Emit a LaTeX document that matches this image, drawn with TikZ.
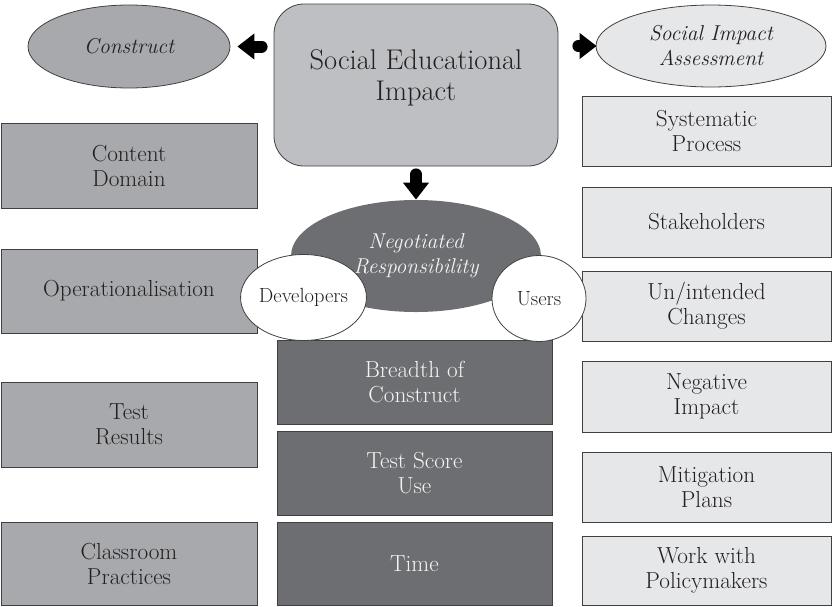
\documentclass[tikz,border=0pt]{standalone}
\usetikzlibrary{shapes.geometric,arrows.meta,calc}
\definecolor{midgray}{HTML}{A7A9AC}
\definecolor{maingray}{HTML}{BEBFC2}
\definecolor{darkgray}{HTML}{6D6E71}
\definecolor{lightgray}{HTML}{E6E7E8}
\definecolor{inkc}{HTML}{231F20}
\definecolor{edgec}{HTML}{404041}
\definecolor{whitetext}{HTML}{F4F4F4}
\begin{document}
\begin{tikzpicture}[x=1pt,y=-1pt,
  base/.style={draw=edgec,line width=0.8pt,inner sep=0pt,align=center,text=inkc},
  boxtext/.style={font=\fontsize{23.2}{25}\selectfont},
  leftbox/.style={base,boxtext,rectangle,fill=midgray,minimum width=256pt},
  centerbox/.style={base,boxtext,rectangle,fill=darkgray,text=whitetext,minimum width=275pt},
  rightbox/.style={base,boxtext,rectangle,fill=lightgray,minimum width=249pt},
  ell/.style={base,ellipse,font=\fontsize{21.5}{25}\selectfont\itshape},
  circ/.style={base,ellipse,fill=white,font=\fontsize{20.5}{22}\selectfont},
  bigarrow/.style={line width=12pt,line cap=round,draw=black,
     -{Triangle[width=25pt,length=17pt]}}
]
\useasboundingbox (0,0) rectangle (833,606);
% top row
\node[ell,fill=midgray,minimum width=202pt,minimum height=83pt] (construct) at (129,46.5) {Construct};
\node[ell,fill=lightgray,minimum width=230pt,minimum height=82pt] (sia) at (711,46) {Social Impact\\Assessment};
\node[base,rectangle,rounded corners=30pt,fill=maingray,minimum width=284pt,minimum height=162pt] (sei) at (416,85) {};
\node[inner sep=0pt,align=center,text=inkc,font=\fontsize{28.5}{31}\selectfont] (seitext) at ($(sei.center)+(0,-7)$) {Social Educational\\Impact};
% left column
\node[leftbox,minimum height=85pt] (content) at (129,165.5) {Content\\Domain};
\node[leftbox,minimum height=84pt] (oper) at (129,291) {Operationalisation};
\node[leftbox,minimum height=85pt] (results) at (129,424.5) {Test\\Results};
\node[leftbox,minimum height=83.5pt] (class) at (129,563.75) {Classroom\\Practices};
% right column
\node[rightbox,minimum height=70pt] (sys) at (706.5,131) {Systematic\\Process};
\node[rightbox,minimum height=70pt] (stake) at (706.5,222) {Stakeholders};
\node[rightbox,minimum height=70pt] (unint) at (706.5,306) {Un/intended\\Changes};
\node[rightbox,minimum height=71pt] (negimp) at (706.5,396.5) {Negative\\Impact};
\node[rightbox,minimum height=70pt] (mit) at (706.5,487) {Mitigation\\Plans};
\node[rightbox,minimum height=69.5pt] (work) at (706.5,570.75) {Work with\\Policymakers};
% centre column
\node[ell,fill=darkgray,text=whitetext,draw=none,minimum width=250pt,minimum height=112pt] (neg) at (416,256) {Negotiated\\Responsibility};
\node[centerbox,minimum height=84pt] (breadth) at (414.5,382) {Breadth of\\Construct};
\node[centerbox,minimum height=84pt] (tsu) at (414.5,473) {Test Score\\Use};
\node[centerbox,minimum height=83.5pt] (time) at (414.5,563.75) {Time};
\node[circ,minimum width=93pt,minimum height=86pt] (dev) at (303.5,297.5) {Developers};
\node[circ,minimum width=94pt,minimum height=86pt] (users) at (539,298.5) {Users};
% arrows
\draw[bigarrow] ($(sei.west |- construct.east)+(-12,0)$) -- ($(construct.east)+(7,0)$);
\draw[bigarrow] ($(sei.east |- sia.west)+(20,0)$) -- ($(sia.west)+(1,0)$);
\draw[bigarrow] ($(sei.south)+(0,8)$) -- (neg.north);
\end{tikzpicture}
\end{document}
